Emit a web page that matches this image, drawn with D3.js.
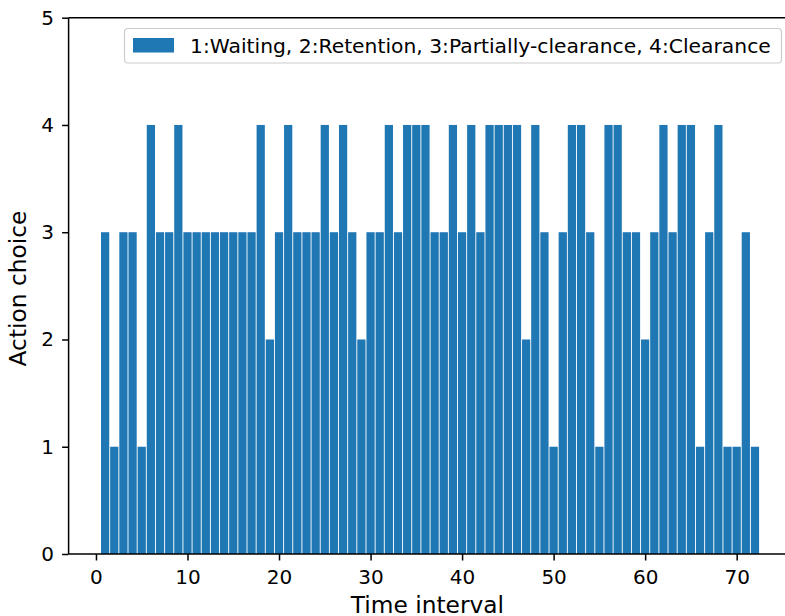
<!DOCTYPE html>
<html>
<head>
<meta charset="utf-8">
<script src="https://cdn.jsdelivr.net/npm/d3@7"></script>
<style>
  html, body { margin: 0; padding: 0; background: #fff; }
  svg { display: block; font-family: "DejaVu Sans", sans-serif; }
</style>
</head>
<body>
<svg id="chart" width="785" height="616"></svg>
<script>
// ---- data ----
const timeIntervals = d3.range(1, 73);
const actionChoices = [
  3,1,3,3,1,4,3,3,4,3, 3,3,3,3,3,3,3,4,2,3,
  4,3,3,3,4,3,4,3,2,3, 3,4,3,4,4,4,3,3,4,3,
  4,3,4,4,4,4,2,4,3,1, 3,4,4,3,1,4,4,3,3,2,
  3,4,3,4,4,1,3,4,1,1, 3,1
];
const xTicks = [0, 10, 20, 30, 40, 50, 60, 70];
const yTicks = [0, 1, 2, 3, 4, 5];
const legendLabel = "1:Waiting, 2:Retention, 3:Partially-clearance, 4:Clearance";
const xLabel = "Time interval";
const yLabel = "Action choice";

// ---- layout ----
const svg = d3.select("#chart");
const color = "#1f77b4";
const pLeft = 68.6, pRight = 791.5, pTop = 17.7, pBottom = 554;
const barWidth = 0.9;

const x = d3.scaleLinear().domain([-2.99, 75.99]).range([pLeft, pRight]);
const y = d3.scaleLinear().domain([0, 5]).range([pBottom, pTop]);

// bars
svg.append("g").selectAll("rect")
  .data(timeIntervals.map((t, i) => ({t, v: actionChoices[i]})))
  .join("rect")
  .attr("x", d => x(d.t - barWidth / 2))
  .attr("width", d => x(d.t + barWidth / 2) - x(d.t - barWidth / 2))
  .attr("y", d => y(d.v))
  .attr("height", d => y(0) - y(d.v))
  .attr("fill", color);

// axes
const tickFont = 20;
const labelFont = 23.3;
const xAxis = d3.axisBottom(x).tickValues(xTicks).tickSize(6.5).tickPadding(9).tickFormat(d3.format("d"));
const gx = svg.append("g").attr("transform", `translate(0,${pBottom})`).call(xAxis);
const yAxis = d3.axisLeft(y).tickValues(yTicks).tickSize(6.5).tickPadding(8).tickFormat(d3.format("d"));
const gy = svg.append("g").attr("transform", `translate(${pLeft},0)`).call(yAxis);

[gx, gy].forEach(g => {
  g.select(".domain").attr("stroke", "#000").attr("stroke-width", 1.5);
  g.selectAll(".tick line").attr("stroke", "#000").attr("stroke-width", 1.5);
  g.selectAll(".tick text").attr("font-size", tickFont).attr("font-family", "DejaVu Sans").attr("fill", "#000");
});
gy.select(".domain").attr("d", `M0,${pBottom}V${pTop}`);
gx.select(".domain").attr("d", `M${pLeft},0H${pRight}`);

// top spine
svg.append("line")
  .attr("x1", pLeft).attr("x2", pRight).attr("y1", pTop).attr("y2", pTop)
  .attr("stroke", "#000").attr("stroke-width", 1.5);

// axis labels
svg.append("text")
  .attr("x", 427.4).attr("y", 612.5)
  .attr("text-anchor", "middle")
  .attr("font-size", labelFont)
  .text(xLabel);

svg.append("text")
  .attr("transform", `translate(26,288.5) rotate(-90)`)
  .attr("text-anchor", "middle")
  .attr("font-size", labelFont)
  .text(yLabel);

// legend
const lg = svg.append("g");
lg.append("rect")
  .attr("x", 124.5).attr("y", 28.5).attr("width", 657).attr("height", 34.5)
  .attr("rx", 3.5).attr("ry", 3.5)
  .attr("fill", "#fff").attr("fill-opacity", 0.8)
  .attr("stroke", "#cccccc").attr("stroke-width", 1.2);
lg.append("rect")
  .attr("x", 133).attr("y", 38).attr("width", 41).attr("height", 14.5)
  .attr("fill", color);
lg.append("text")
  .attr("x", 190).attr("y", 52.7)
  .attr("font-size", 20.3)
  .text(legendLabel);
</script>
</body>
</html>
